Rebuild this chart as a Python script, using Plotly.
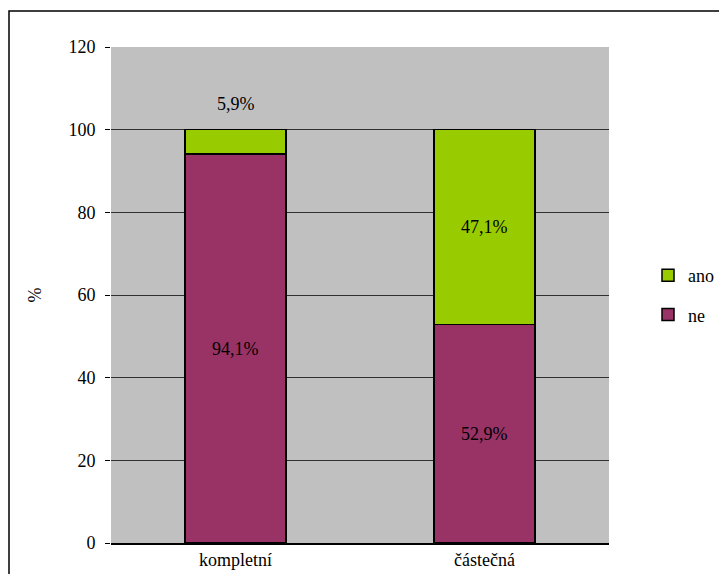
import plotly.graph_objects as go

# Share of answers per category (percent)
categories = ["kompletní", "částečná"]
ne_values = [94.1, 52.9]
ano_values = [5.9, 47.1]
y_ticks = [0, 20, 40, 60, 80, 100, 120]

FONT = "Liberation Serif, DejaVu Serif, serif"
FS = 18
GREEN = "#99CC00"
MAROON = "#993366"

fig = go.Figure()
fig.add_trace(go.Bar(
    name="ne", x=categories, y=ne_values,
    marker=dict(color=MAROON, line=dict(color="black", width=1.5)),
    legendgroup="ne", legendrank=2,
))
fig.add_trace(go.Bar(
    name="ano", x=categories, y=ano_values,
    marker=dict(color=GREEN, line=dict(color="black", width=1.5)),
    legendgroup="ano", legendrank=1,
))

# Value labels: centred inside each segment, small segments labelled above the stack
annotations = []
for i, cat in enumerate(categories):
    ne, ano = ne_values[i], ano_values[i]
    annotations.append(dict(x=cat, y=ne / 2, text=f"{ne:.1f}%".replace(".", ","),
                            showarrow=False, xref="x", yref="y"))
    if ano >= 10:
        annotations.append(dict(x=cat, y=ne + ano / 2, text=f"{ano:.1f}%".replace(".", ","),
                                showarrow=False, xref="x", yref="y"))
    else:
        annotations.append(dict(x=cat, y=ne + ano, text=f"{ano:.1f}%".replace(".", ","),
                                showarrow=False, xref="x", yref="y", yshift=26))
for a in annotations:
    a["font"] = dict(family=FONT, size=FS, color="black")

W, H = 719, 574
L, R, T, B = 111, 110, 47, 31
pw, ph = W - L - R, H - T - B

# Outer chart frame
frame = dict(type="rect", xref="paper", yref="paper",
             x0=(9 - L) / pw, x1=(W + 20 - L) / pw,
             y0=-(B + 20) / ph, y1=(H - B - 11) / ph,
             line=dict(color="black", width=1.5), fillcolor="rgba(0,0,0,0)", layer="below")

fig.update_layout(
    width=W, height=H,
    margin=dict(l=L, r=R, t=T, b=B, autoexpand=False),
    barmode="stack",
    bargap=0.595,
    plot_bgcolor="#C0C0C0",
    paper_bgcolor="white",
    font=dict(family=FONT, size=FS, color="black"),
    annotations=annotations,
    shapes=[frame],
    legend=dict(
        x=(648 - L) / pw, y=0.5, xanchor="left", yanchor="middle",
        traceorder="grouped", tracegroupgap=13,
        font=dict(family=FONT, size=FS, color="black"),
        bgcolor="rgba(0,0,0,0)",
    ),
    xaxis=dict(
        showgrid=False, ticks="", showline=True, linecolor="black", linewidth=1.5,
        tickfont=dict(family=FONT, size=FS, color="black"),
    ),
    yaxis=dict(
        range=[0, 120], tickvals=y_ticks, ticks="outside", ticklen=5,
        tickcolor="black", showgrid=True, gridcolor="#303030", gridwidth=1,
        showline=False, zeroline=False, ticklabelstandoff=6,
        tickfont=dict(family=FONT, size=FS, color="black"),
        title=dict(text="%", standoff=22, font=dict(family=FONT, size=FS, color="black")),
    ),
)

fig.write_html("out.html")
